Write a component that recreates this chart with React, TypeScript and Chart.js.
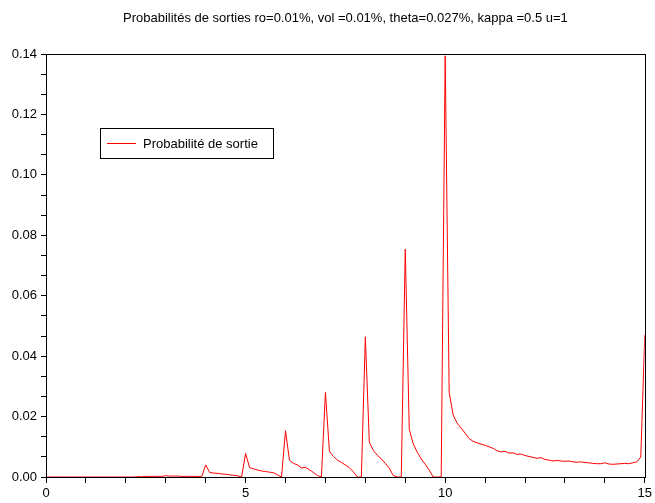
import React, { useEffect, useRef } from "react";
import { Chart, registerables } from "chart.js";

Chart.register(...registerables);

const TITLE = "Probabilités de sorties ro=0.01%, vol =0.01%, theta=0.027%, kappa =0.5 u=1";
const SERIES_LABEL = "Probabilité de sortie";

// x grid: each segment covers [n, n+1) with a step of 0.1
const seg0 = [0, 0, 0, 0, 0, 0, 0, 0, 0, 0];
const seg1 = [0, 0, 0, 0, 0, 0, 0, 0, 0, 0];
const seg2 = [0, 0, 0, 0.0001, 0.0001, 0.0002, 0.0002, 0.0002, 0.0002, 0.0002];
const seg3 = [0.0004, 0.0003, 0.0003, 0.0003, 0.0002, 0.0002, 0.0002, 0.0002, 0.0002, 0.0001];
const seg4 = [0.004, 0.0015, 0.0013, 0.0012, 0.001, 0.0009, 0.0007, 0.0006, 0.0004, 0.0];
const seg5 = [0.0078, 0.0031, 0.0027, 0.0023, 0.002, 0.0018, 0.0016, 0.0014, 0.0007, 0.0];
const seg6 = [0.0153, 0.0055, 0.0045, 0.004, 0.003, 0.0032, 0.0024, 0.0015, 0.0005, 0.0];
const seg7 = [0.028, 0.0085, 0.0068, 0.0056, 0.0048, 0.004, 0.0031, 0.0017, 0.0, 0.0];
const seg8 = [0.0464, 0.0115, 0.0088, 0.0072, 0.006, 0.0045, 0.0029, 0.0005, 0.0, 0.0];
const seg9 = [0.0754, 0.0158, 0.011, 0.0082, 0.006, 0.0042, 0.0023, 0.0, 0.0, 0.0];
const seg10 = [0.1394, 0.028, 0.0205, 0.0178, 0.0162, 0.0145, 0.0127, 0.0118, 0.0113, 0.0109];
const seg11 = [0.0105, 0.01, 0.0095, 0.0087, 0.0083, 0.0085, 0.0079, 0.008, 0.0075, 0.0076];
const seg12 = [0.0071, 0.0068, 0.0065, 0.0062, 0.0064, 0.0058, 0.0056, 0.0053, 0.0055, 0.0053];
const seg13 = [0.0052, 0.0053, 0.005, 0.0049, 0.005, 0.0048, 0.0047, 0.0045, 0.0044, 0.0044];
const seg14 = [0.0047, 0.0043, 0.0042, 0.0043, 0.0044, 0.0045, 0.0044, 0.0047, 0.005, 0.0066];
const lastValue = 0.047; // x = 15

const segments = [seg0, seg1, seg2, seg3, seg4, seg5, seg6, seg7, seg8, seg9, seg10, seg11, seg12, seg13, seg14];

const xTickValues = [0, 1, 2, 3, 4, 5, 6, 7, 8, 9, 10, 11, 12, 13, 14, 15];
const xLabeled = [0, 5, 10, 15];
const yMajorTicks = [0, 0.02, 0.04, 0.06, 0.08, 0.1, 0.12, 0.14];
const ySubdivisions = 3;

const FONT = "'Liberation Sans', Arial, Helvetica, sans-serif";

function buildPoints() {
  const pts: { x: number; y: number }[] = [];
  segments.forEach((seg, n) => {
    seg.forEach((v, i) => {
      pts.push({ x: Math.round((n + i / 10) * 10) / 10, y: v });
    });
  });
  pts.push({ x: segments.length, y: lastValue });
  return pts;
}

const framePlugin = {
  id: "frame",
  afterDraw(chart: any) {
    const { ctx, chartArea } = chart;
    ctx.save();
    ctx.strokeStyle = "#000";
    ctx.lineWidth = 1;
    const l = Math.round(chartArea.left) + 0.5;
    const t = Math.round(chartArea.top) + 0.5;
    const r = Math.round(chartArea.right) + 0.5;
    const b = Math.round(chartArea.bottom) + 0.5;
    ctx.strokeRect(l, t, r - l, b - t);
    ctx.restore();
  },
};

const titlePlugin = {
  id: "customTitle",
  afterDraw(chart: any) {
    const { ctx, chartArea } = chart;
    ctx.save();
    ctx.fillStyle = "#000";
    ctx.font = `13px ${FONT}`;
    ctx.textAlign = "center";
    ctx.textBaseline = "middle";
    ctx.fillText(TITLE, (chartArea.left + chartArea.right) / 2, 18);
    ctx.restore();
  },
};

const legendPlugin = {
  id: "customLegend",
  afterDraw(chart: any) {
    const { ctx } = chart;
    ctx.save();
    ctx.fillStyle = "#fff";
    ctx.fillRect(100.5, 128.5, 173, 30);
    ctx.strokeStyle = "#000";
    ctx.lineWidth = 1;
    ctx.strokeRect(100.5, 128.5, 173, 30);
    ctx.strokeStyle = "#ff0000";
    ctx.beginPath();
    ctx.moveTo(107, 143.5);
    ctx.lineTo(136, 143.5);
    ctx.stroke();
    ctx.fillStyle = "#000";
    ctx.font = `13px ${FONT}`;
    ctx.textAlign = "left";
    ctx.textBaseline = "middle";
    ctx.fillText(chart.data.datasets[0].label, 143, 144);
    ctx.restore();
  },
};

export default function App() {
  const canvasRef = useRef<HTMLCanvasElement | null>(null);

  useEffect(() => {
    document.body.style.margin = "0";
    const canvas = canvasRef.current;
    if (!canvas) return;
    const chart = new Chart(canvas, {
      type: "line",
      data: {
        datasets: [
          {
            label: SERIES_LABEL,
            data: buildPoints(),
            borderColor: "#ff0000",
            borderWidth: 1,
            pointRadius: 0,
            tension: 0,
            fill: false,
          },
        ],
      },
      options: {
        animation: false,
        responsive: false,
        devicePixelRatio: 1,
        layout: { padding: { top: 54, right: 9, bottom: 0, left: 0 } },
        plugins: {
          legend: { display: false },
          title: { display: false },
          tooltip: { enabled: false },
        },
        scales: {
          x: {
            type: "linear",
            min: 0,
            max: 15,
            afterBuildTicks(scale: any) {
              scale.ticks = xTickValues.map((v) => ({ value: v }));
            },
            afterFit(scale: any) {
              scale.height = 26;
            },
            ticks: {
              autoSkip: false,
              maxRotation: 0,
              padding: 3,
              color: "#000",
              font: { family: FONT, size: 13 },
              callback: (v: any) => (xLabeled.includes(Number(v)) ? String(v) : ""),
            },
            grid: {
              display: true,
              drawOnChartArea: false,
              drawTicks: true,
              tickLength: 6,
              color: "#000",
            },
            border: { display: true, color: "#000" },
          },
          y: {
            type: "linear",
            min: 0,
            max: 0.14,
            afterBuildTicks(scale: any) {
              const t: { value: number; major?: boolean }[] = [];
              for (let i = 0; i < yMajorTicks.length; i++) {
                t.push({ value: yMajorTicks[i] });
                if (i < yMajorTicks.length - 1) {
                  const a = yMajorTicks[i];
                  const b = yMajorTicks[i + 1];
                  for (let k = 1; k < ySubdivisions; k++) {
                    t.push({ value: a + ((b - a) * k) / ySubdivisions });
                  }
                }
              }
              scale.ticks = t;
            },
            afterFit(scale: any) {
              scale.width = 46;
            },
            ticks: {
              autoSkip: false,
              padding: 4,
              color: "#000",
              font: { family: FONT, size: 13 },
              callback: (v: any) => {
                const n = Number(v);
                const isMajor = yMajorTicks.some((m) => Math.abs(m - n) < 1e-9);
                return isMajor ? n.toFixed(2) : "";
              },
            },
            grid: {
              display: true,
              drawOnChartArea: false,
              drawTicks: true,
              tickLength: 5,
              color: "#000",
            },
            border: { display: true, color: "#000" },
          },
        },
      },
      plugins: [framePlugin, titlePlugin, legendPlugin],
    });
    return () => chart.destroy();
  }, []);

  return (
    <div style={{ position: "absolute", left: 0, top: 0, width: 655, height: 503 }}>
      <canvas ref={canvasRef} width={655} height={503} style={{ width: 655, height: 503 }} />
    </div>
  );
}
